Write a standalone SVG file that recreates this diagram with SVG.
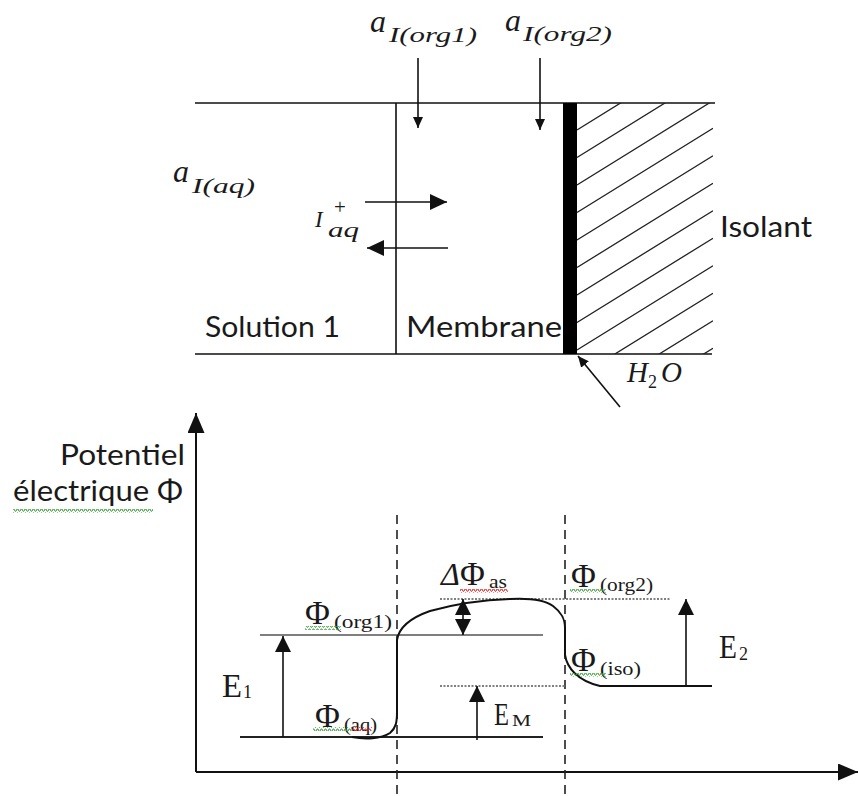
<svg xmlns="http://www.w3.org/2000/svg" width="859" height="796" viewBox="0 0 859 796">
<style>
.ln{stroke:#111;stroke-width:1.6;fill:none}
.ax{stroke:#111;stroke-width:2;fill:none}
.lbl{font-family:Lato,"Open Sans","Liberation Sans",sans-serif;font-size:29px;fill:#1a1a1a}
.m{font-family:"Liberation Serif","Times New Roman",serif;fill:#1a1a1a}
.it{font-style:italic}
.dash{stroke:#222;stroke-width:1.6;stroke-dasharray:9 6;fill:none}
.dot{stroke:#808080;stroke-width:2;stroke-dasharray:2 1.5;fill:none}
.lvl{stroke:#555;stroke-width:1.6;fill:none}
.hatch{stroke:#222;stroke-width:1.3}
.wg{fill:url(#wavyG)}
.wr{fill:url(#wavyR)}
</style>
<defs>
<marker id="aS" markerUnits="userSpaceOnUse" markerWidth="11" markerHeight="10" refX="11" refY="5" orient="auto"><path d="M0,0 L11,5 L0,10z" fill="#111"/></marker>
<marker id="aM" markerUnits="userSpaceOnUse" markerWidth="17" markerHeight="16" refX="17" refY="8" orient="auto"><path d="M0,0 L17,8 L0,16z" fill="#111"/></marker>
<marker id="aL" markerUnits="userSpaceOnUse" markerWidth="16" markerHeight="16" refX="16" refY="8" orient="auto"><path d="M0,0 L16,8 L0,16z" fill="#111"/></marker>
<marker id="aX" markerUnits="userSpaceOnUse" markerWidth="20" markerHeight="17" refX="20" refY="8.5" orient="auto"><path d="M0,0 L20,8.5 L0,17z" fill="#111"/></marker>
<pattern id="wavyG" width="4" height="4" patternUnits="userSpaceOnUse"><path d="M0,3.2 L1,1 L2,1 L3,3.2 L4,3.2" stroke="#3c9e3c" stroke-width="1" fill="none"/></pattern>
<pattern id="wavyR" width="4" height="4" patternUnits="userSpaceOnUse"><path d="M0,3.2 L1,1 L2,1 L3,3.2 L4,3.2" stroke="#e02424" stroke-width="1" fill="none"/></pattern>
<clipPath id="hclip"><rect x="577" y="103" width="136" height="251"/></clipPath>
</defs>

<!-- Top: cell diagram -->
<g id="cell-frame">
<path class="ln" d="M195,103 L715,103 M195,354 L712,354 M396,103 L396,354"/>
</g>
<g id="isolant-hatch" clip-path="url(#hclip)">
<path class="hatch" d="M577,130 L713,45.7 M577,157.5 L713,73.2 M577,185 L713,100.7 M577,212.5 L713,128.2 M577,240 L713,155.7 M577,267.5 L713,183.2 M577,295 L713,210.7 M577,322.5 L713,238.2 M577,350 L713,265.7 M577,377.5 L713,293.2 M577,405 L713,320.7 M577,432.5 L713,348.2"/>
</g>
<g id="water-layer"><rect x="563" y="103" width="14" height="251" fill="#000"/></g>

<g id="solution1"><text class="lbl" x="205" y="337" textLength="135" lengthAdjust="spacingAndGlyphs">Solution 1</text></g>
<g id="membrane"><text class="lbl" x="406" y="337" textLength="156" lengthAdjust="spacingAndGlyphs">Membrane</text></g>
<g id="isolant"><text class="lbl" x="720" y="237" textLength="92" lengthAdjust="spacingAndGlyphs">Isolant</text></g>

<g id="a-org1">
<text class="m it" x="370" y="32" font-size="32">a</text>
<text class="m it" x="389" y="42" font-size="22" textLength="88" lengthAdjust="spacingAndGlyphs">I(org1)</text>
</g>
<g id="a-org2">
<text class="m it" x="505" y="31" font-size="32">a</text>
<text class="m it" x="523" y="41" font-size="22" textLength="89" lengthAdjust="spacingAndGlyphs">I(org2)</text>
</g>
<g id="a-aq">
<text class="m it" x="173" y="182" font-size="32">a</text>
<text class="m it" x="192" y="193" font-size="22" textLength="63" lengthAdjust="spacingAndGlyphs">I(aq)</text>
</g>
<g id="i-aq">
<text class="m it" x="315" y="227" font-size="23">I</text>
<text class="m" x="334" y="214" font-size="21">+</text>
<text class="m it" x="328" y="237" font-size="20" textLength="31" lengthAdjust="spacingAndGlyphs">aq</text>
</g>
<g id="h2o">
<text class="m it" x="627" y="382" font-size="29">H</text>
<text class="m" x="648" y="388" font-size="18">2</text>
<text class="m it" x="661" y="382" font-size="29">O</text>
</g>

<g id="connectors-top">
<path class="ln" d="M418,58 L418,128" marker-end="url(#aS)"/>
<path class="ln" d="M540,58 L540,130" marker-end="url(#aS)"/>
<path class="ln" d="M365,202 L447,202" marker-end="url(#aM)"/>
<path class="ln" d="M448,248 L367,248" marker-end="url(#aM)"/>
<path class="ln" d="M620,407 L578,356" marker-end="url(#aS)"/>
</g>

<!-- Bottom: potential graph -->
<g id="axes">
<path class="ax" d="M196,772 L196,413" marker-end="url(#aX)"/>
<path class="ax" d="M196,772 L858,772" marker-end="url(#aX)"/>
</g>
<g id="axis-label">
<text class="lbl" x="185" y="465" text-anchor="end" textLength="125" lengthAdjust="spacingAndGlyphs">Potentiel</text>
<text class="lbl" x="183" y="501" text-anchor="end" textLength="170" lengthAdjust="spacingAndGlyphs">électrique Φ</text>
<rect class="wg" x="13" y="509" width="140" height="4"/>
</g>

<g id="boundaries">
<path class="dash" d="M397,515 L397,796 M565,515 L565,796"/>
</g>

<g id="levels">
<path class="lvl" d="M260,635 L543,635"/>
<path stroke="#222" stroke-width="2" fill="none" d="M240,737 L543,737"/>
<path class="dot" d="M440,599 L670,599 M440,686 L565,686"/>
</g>

<g id="potential-curve">
<path stroke="#111" stroke-width="2" fill="none" d="M352,737 C365,739.5 381,739 390,733 C396,728 397,722 397,712 L397,640 C399,627 410,618 430,611 C455,604 480,600 510,599 C530,598 545,600 553,606 C561,612 565,618 565,628 L565,655 C567,668 578,681 600,686 L712,686"/>
</g>

<g id="connectors-bottom">
<path class="ln" stroke-width="2" d="M283,737 L283,636" marker-end="url(#aL)"/>
<path class="ln" stroke-width="2" d="M477,740 L477,686" marker-end="url(#aL)"/>
<path class="ln" stroke-width="2" d="M686,686 L686,599" marker-end="url(#aL)"/>
<path class="ln" stroke-width="2" d="M463,617 L463,599" marker-end="url(#aL)"/>
<path class="ln" stroke-width="2" d="M463,617 L463,635" marker-end="url(#aL)"/>
</g>

<g id="label-E1">
<text class="m" x="222" y="697" font-size="34" textLength="20" lengthAdjust="spacingAndGlyphs">E</text>
<text class="m" x="243" y="698" font-size="18">1</text>
</g>
<g id="label-EM">
<text class="m" x="494" y="725" font-size="32" textLength="15" lengthAdjust="spacingAndGlyphs">E</text>
<text class="m" x="512" y="726" font-size="17" textLength="19" lengthAdjust="spacingAndGlyphs">M</text>
</g>
<g id="label-E2">
<text class="m" x="719" y="658" font-size="34" textLength="18" lengthAdjust="spacingAndGlyphs">E</text>
<text class="m" x="739" y="660" font-size="18">2</text>
</g>

<g id="phi-org1">
<text class="m" x="305" y="624" font-size="34">Φ</text>
<text class="m" x="334" y="628" font-size="19" textLength="58" lengthAdjust="spacingAndGlyphs">(org1)</text>
<rect class="wg" x="305" y="626" width="36" height="4"/>
</g>
<g id="phi-aq">
<text class="m" x="315" y="727" font-size="34">Φ</text>
<text class="m" x="344" y="731" font-size="19" textLength="33" lengthAdjust="spacingAndGlyphs">(aq)</text>
<rect class="wg" x="313" y="727" width="39" height="4"/>
<rect class="wr" x="352" y="727" width="20" height="4"/>
</g>
<g id="delta-phi-as">
<text class="m it" x="441" y="585" font-size="32">Δ</text>
<text class="m" x="460" y="585" font-size="34">Φ</text>
<text class="m" x="489" y="588" font-size="19" textLength="18" lengthAdjust="spacingAndGlyphs">as</text>
<rect class="wr" x="460" y="589" width="48" height="4"/>
</g>
<g id="phi-org2">
<text class="m" x="571" y="587" font-size="34">Φ</text>
<text class="m" x="600" y="591" font-size="19" textLength="53" lengthAdjust="spacingAndGlyphs">(org2)</text>
<rect class="wg" x="570" y="589" width="36" height="4"/>
</g>
<g id="phi-iso">
<text class="m" x="571" y="671" font-size="34">Φ</text>
<text class="m" x="600" y="675" font-size="19" textLength="41" lengthAdjust="spacingAndGlyphs">(iso)</text>
<rect class="wg" x="570" y="673" width="36" height="4"/>
</g>
</svg>
